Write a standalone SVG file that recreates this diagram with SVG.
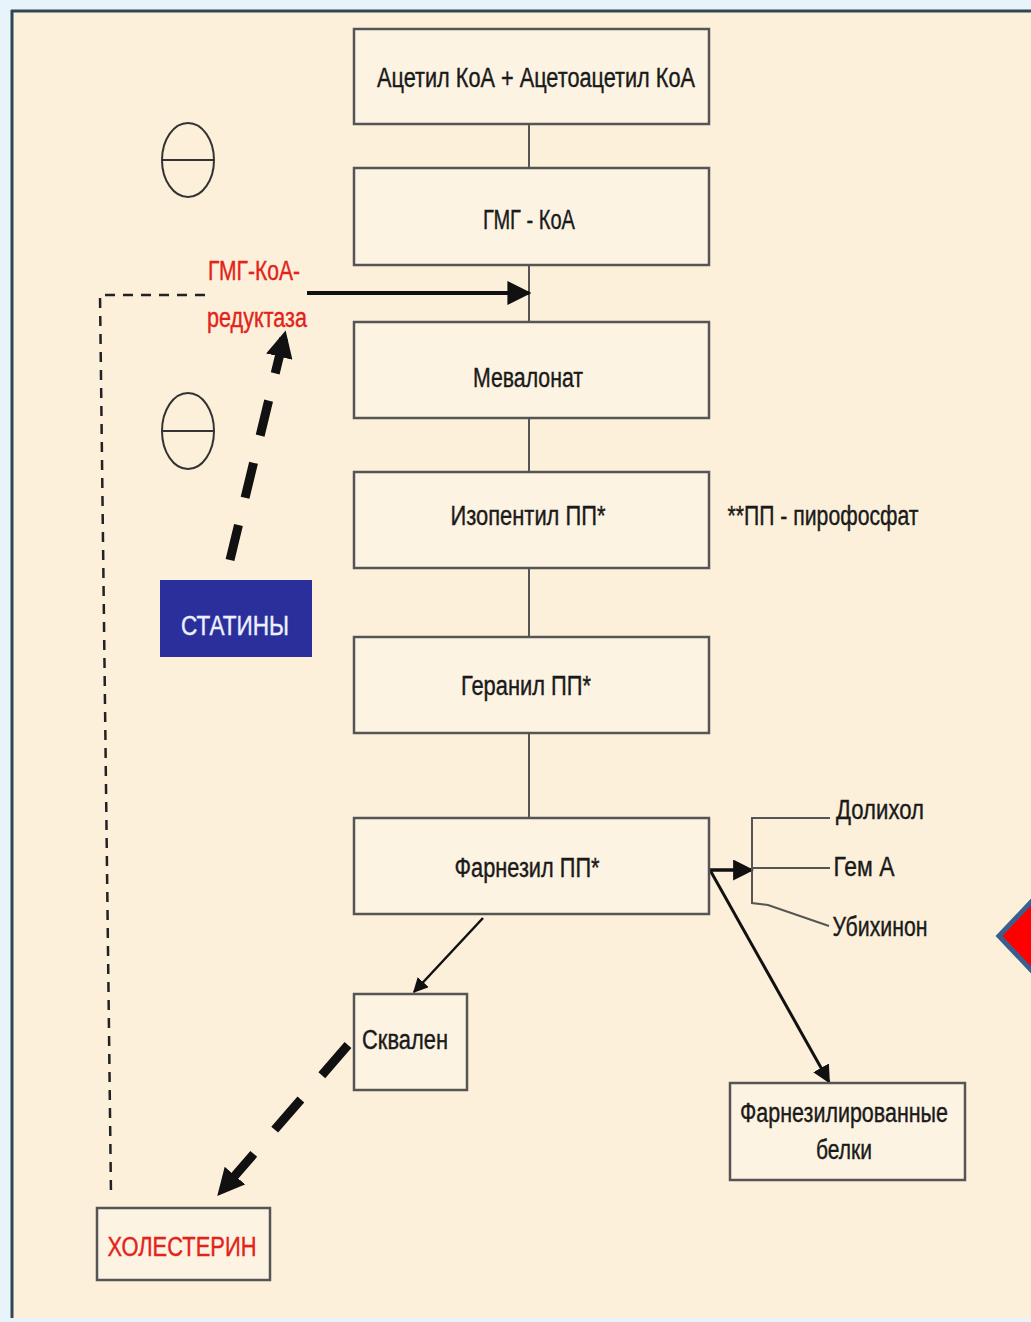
<svg xmlns="http://www.w3.org/2000/svg" width="1031" height="1322" viewBox="0 0 1031 1322">
<style>
.box{fill:#fdf3e2;stroke:#555;stroke-width:2.5}
.t{font-family:"Liberation Sans",Arial,sans-serif;font-size:27px;fill:#1a1a1a;text-anchor:middle;stroke:#1a1a1a;stroke-width:0.4}
.ln{stroke:#555;stroke-width:2;fill:none}
.red{fill:#e2231a;stroke:#e2231a}
</style>
<defs>
<marker id="ah" viewBox="0 0 10 10" refX="9" refY="5" markerWidth="6" markerHeight="6" markerUnits="strokeWidth" orient="auto"><path d="M0,0 L10,5 L0,10 z" fill="#111"/></marker>
<marker id="ahs" viewBox="0 0 10 10" refX="9" refY="5" markerWidth="3" markerHeight="3" markerUnits="strokeWidth" orient="auto"><path d="M0,0 L10,5 L0,10 z" fill="#111"/></marker>
<marker id="ahm" viewBox="0 0 10 10" refX="9" refY="5" markerWidth="6" markerHeight="6" markerUnits="strokeWidth" orient="auto"><path d="M0,0 L10,5 L0,10 z" fill="#111"/></marker>
</defs>
<rect x="0" y="0" width="1031" height="1322" fill="#e9f4fa"/>
<rect x="12" y="11" width="1025" height="1307" fill="#fcf0da"/>
<line x1="11" y1="11" x2="1031" y2="11" stroke="#2e4658" stroke-width="3"/>
<line x1="12" y1="10" x2="12" y2="1318" stroke="#2e4658" stroke-width="3"/>
<polygon points="999,936 1035,898 1035,974" fill="#ff0000" stroke="#3b5f8c" stroke-width="5"/>

<g id="connectors">
<line class="ln" x1="529" y1="124" x2="529" y2="168"/>
<line class="ln" x1="529" y1="265" x2="529" y2="322"/>
<line class="ln" x1="529" y1="418" x2="529" y2="472"/>
<line class="ln" x1="529" y1="568" x2="529" y2="637"/>
<line class="ln" x1="529" y1="733" x2="529" y2="818"/>
<line x1="307" y1="293" x2="529" y2="293" stroke="#111" stroke-width="4" marker-end="url(#ah)"/>
<path d="M205,295 L100,295 L111,1195" fill="none" stroke="#222" stroke-width="2.5" stroke-dasharray="10,8"/>
<line x1="230" y1="560" x2="285" y2="333" stroke="#111" stroke-width="9" stroke-dasharray="36,28" marker-end="url(#ahs)"/>
<line x1="348" y1="1045" x2="219" y2="1194" stroke="#111" stroke-width="9" stroke-dasharray="40,32" marker-end="url(#ahs)"/>
<line x1="483" y1="918" x2="414" y2="992" stroke="#111" stroke-width="2.5" marker-end="url(#ahm)"/>
<line x1="710" y1="870" x2="829" y2="1082" stroke="#111" stroke-width="3" marker-end="url(#ahm)"/>
<line x1="710" y1="870" x2="752" y2="870" stroke="#111" stroke-width="3.5" marker-end="url(#ah)"/>
<path class="ln" d="M830,818 L752,818 L752,903 L768,905 L829,926"/>
<line class="ln" x1="752" y1="868" x2="830" y2="868"/>
</g>

<g id="n1"><rect class="box" x="354" y="29" width="355" height="95"/><text class="t" x="536" y="87" textLength="318" lengthAdjust="spacingAndGlyphs">Ацетил КоА + Ацетоацетил КоА</text></g>
<g id="n2"><rect class="box" x="354" y="168" width="355" height="97"/><text class="t" x="529" y="229" textLength="92" lengthAdjust="spacingAndGlyphs">ГМГ - КоА</text></g>
<g id="n3"><rect class="box" x="354" y="322" width="355" height="96"/><text class="t" x="528" y="387" textLength="110" lengthAdjust="spacingAndGlyphs">Мевалонат</text></g>
<g id="n4"><rect class="box" x="354" y="472" width="355" height="96"/><text class="t" x="528" y="525" textLength="155" lengthAdjust="spacingAndGlyphs">Изопентил ПП*</text></g>
<g id="n5"><rect class="box" x="354" y="637" width="355" height="96"/><text class="t" x="526" y="695" textLength="130" lengthAdjust="spacingAndGlyphs">Геранил ПП*</text></g>
<g id="n6"><rect class="box" x="354" y="818" width="355" height="96"/><text class="t" x="527" y="877" textLength="145" lengthAdjust="spacingAndGlyphs">Фарнезил ПП*</text></g>
<g id="n7"><rect class="box" x="354" y="994" width="113" height="96"/><text class="t" x="405" y="1049" textLength="86" lengthAdjust="spacingAndGlyphs">Сквален</text></g>
<g id="n8"><rect class="box" x="97" y="1208" width="173" height="72"/><text class="t red" x="182" y="1256" textLength="149" lengthAdjust="spacingAndGlyphs">ХОЛЕСТЕРИН</text></g>
<g id="n9"><rect class="box" x="730" y="1083" width="235" height="97"/><text class="t" x="844" y="1122" textLength="208" lengthAdjust="spacingAndGlyphs">Фарнезилированные</text><text class="t" x="844" y="1159" textLength="56" lengthAdjust="spacingAndGlyphs">белки</text></g>
<g id="n10"><rect x="160" y="580" width="152" height="77" fill="#2a2f9c"/><text class="t" x="235" y="635" style="fill:#eef0ff;stroke:#eef0ff" textLength="108" lengthAdjust="spacingAndGlyphs">СТАТИНЫ</text></g>
<g id="n11"><text class="t red" x="254" y="280" textLength="92" lengthAdjust="spacingAndGlyphs">ГМГ-КоА-</text><text class="t red" x="257" y="327" textLength="100" lengthAdjust="spacingAndGlyphs">редуктаза</text></g>
<g id="n12"><text class="t" x="823" y="525" textLength="191" lengthAdjust="spacingAndGlyphs">**ПП - пирофосфат</text></g>
<g id="n13"><text class="t" x="880" y="819" textLength="88" lengthAdjust="spacingAndGlyphs">Долихол</text></g>
<g id="n14"><text class="t" x="864" y="876" textLength="61" lengthAdjust="spacingAndGlyphs">Гем А</text></g>
<g id="n15"><text class="t" x="880" y="936" textLength="95" lengthAdjust="spacingAndGlyphs">Убихинон</text></g>
<g id="n16"><ellipse cx="188" cy="160" rx="26" ry="37" fill="none" stroke="#333" stroke-width="2"/><line x1="162" y1="160" x2="214" y2="160" stroke="#333" stroke-width="2"/></g>
<g id="n17"><ellipse cx="188" cy="431" rx="26" ry="38" fill="none" stroke="#333" stroke-width="2"/><line x1="162" y1="431" x2="214" y2="431" stroke="#333" stroke-width="2"/></g>
</svg>
